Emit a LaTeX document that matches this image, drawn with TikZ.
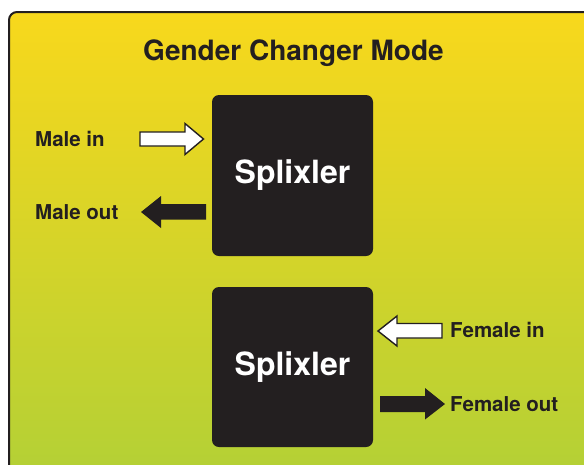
\documentclass[tikz,border=0pt]{standalone}
\usepackage{fontspec}
\setmainfont{TeX Gyre Heros}
\definecolor{ink}{RGB}{35,31,32}
\definecolor{ytop}{RGB}{248,216,28}
\definecolor{ybot}{RGB}{178,208,54}
\tikzset{
  panel/.style={draw=ink, line width=2pt, rounded corners=8pt, top color=ytop, bottom color=ybot},
  splix/.style={fill=ink, rounded corners=7pt, minimum width=161pt, minimum height=161pt, inner sep=0pt,
    text=white, font=\bfseries\fontsize{32}{38}\selectfont},
  lbl/.style={text=ink, inner sep=0pt, font=\bfseries\fontsize{20.5}{24}\selectfont},
  ttl/.style={text=ink, inner sep=0pt, font=\bfseries\fontsize{28}{34}\selectfont},
  hollowarrow/.style={draw=ink, line width=1.4pt, fill=white, line join=miter},
  solidarrow/.style={fill=ink},
}
\begin{document}
\begin{tikzpicture}[x=1pt,y=-1pt]
\useasboundingbox (0,0) rectangle (584,464);
\clip (0,0) rectangle (584,464);
\path[panel] (9,12) rectangle (604,484);
\node[ttl, anchor=base] (title) at (293.5,60) {Gender Changer Mode};
\node[splix] (s1) at (292.5,175.5) {Splixler};
\node[splix, minimum height=160pt] (s2) at (292.5,367) {Splixler};
\node[lbl, anchor=base west] (mi) at (35,146.5) {Male in};
\node[lbl, anchor=base west] (mo) at (35,219) {Male out};
\node[lbl, anchor=base west] (fi) at (450,337.5) {Female in};
\node[lbl, anchor=base west] (fo) at (450,411) {Female out};
% Male in (white, pointing right)
\draw[hollowarrow] (140,132) -- (185,132) -- (185,123.5) -- (203.5,139) -- (185,154.5) -- (185,146) -- (140,146) -- cycle;
% Male out (black, pointing left)
\fill[solidarrow] (206,204) -- (161,204) -- (161,196) -- (141,212) -- (161,228) -- (161,219.5) -- (206,219.5) -- cycle;
% Female in (white, pointing left)
\draw[hollowarrow] (442,323.5) -- (397,323.5) -- (397,316) -- (378,331) -- (397,346) -- (397,338) -- (442,338) -- cycle;
% Female out (black, pointing right)
\fill[solidarrow] (380,396) -- (425,396) -- (425,388) -- (445,404) -- (425,419.5) -- (425,412) -- (380,412) -- cycle;
\end{tikzpicture}
\end{document}
